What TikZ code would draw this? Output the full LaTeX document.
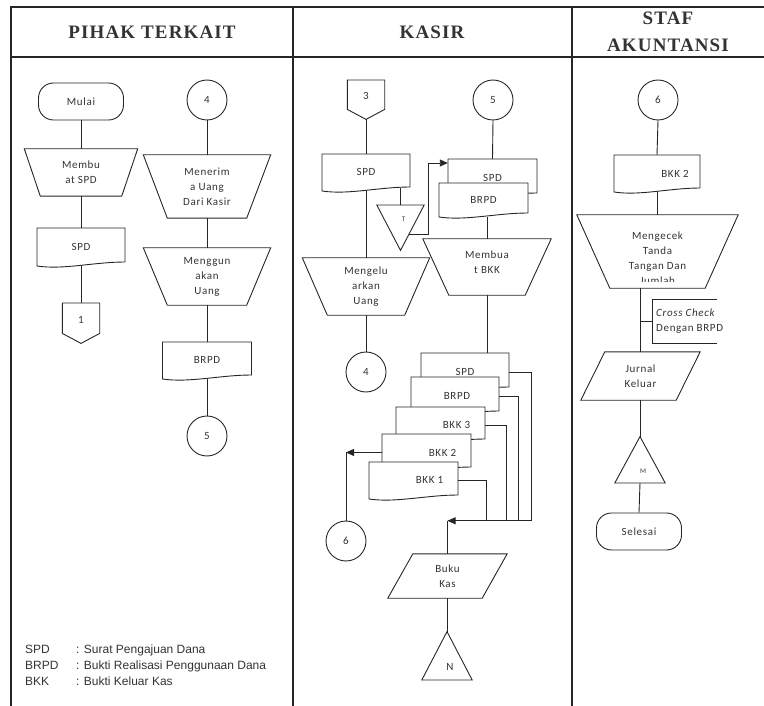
\documentclass[tikz,border=0pt]{standalone}
\usepackage{fontspec}
\usetikzlibrary{calc, arrows.meta}
\newfontfamily\isifont{Carlito}[LetterSpace=6]
\newfontfamily\judulfont{Liberation Serif}[LetterSpace=6]
\newfontfamily\ketfont{Liberation Sans}
\newcommand\isi{\isifont\fontsize{11}{15}\selectfont}
\newcommand\kecil{\isifont\fontsize{7}{8}\selectfont}
\newcommand\ket{\ketfont\fontsize{12}{16}\selectfont}

\tikzset{
  garis/.style={line width=0.9pt, draw=black!85},
  bingkai/.style={line width=1.4pt, draw=black!85},
  lbl/.style={font=\isi, text=black!80, align=center, inner sep=0pt},
  kotak/.style 2 args={lbl, minimum width=#1, minimum height=#2},
  bulat/.style={lbl, garis, circle, minimum size=40},
  terminal/.style={lbl, garis, rounded corners=15, minimum width=85, minimum height=37},
  panah/.style={-{Triangle[length=8pt,width=7pt]}},
  judul/.style={font=\judulfont\bfseries\fontsize{19}{27}\selectfont, text=black!80, align=center},
}

% dokumen: nama, x tengah, y atas, lebar, tinggi, teks, geser teks
\newcommand\dok[7]{%
  \draw[garis,fill=white] ({#2-#4/2},#3) -- ({#2+#4/2},#3) -- ({#2+#4/2},{#3+#5})
    .. controls +({-0.35*#4},0) and +({0.3*#4},4) .. ({#2-#4/2},{#3+#5+4}) -- cycle;
  \node[kotak={#4}{#5+3.5}, anchor=north, label={[lbl,xshift=#7pt]center:#6}] (#1) at (#2,#3) {};}
\newcommand\manop[2]{\draw[garis] (#1.north west) -- (#1.north east) -- ([xshift=-#2pt]#1.south east) -- ([xshift=#2pt]#1.south west) -- cycle;}
\newcommand\jajar[2]{\draw[garis] ([xshift=#2pt]#1.north west) -- (#1.north east) -- ([xshift=-#2pt]#1.south east) -- (#1.south west) -- cycle;}
\newcommand\offpage[1]{\draw[garis] (#1.north west) -- (#1.north east) -- ([yshift=10pt]#1.south east) -- (#1.south) -- ([yshift=10pt]#1.south west) -- cycle;}
\newcommand\segitigaturun[1]{\draw[garis] (#1.north west) -- (#1.north east) -- (#1.south) -- cycle;}
\newcommand\segitiganaik[1]{\draw[garis] (#1.south west) -- (#1.south east) -- (#1.north) -- cycle;}

\begin{document}
\begin{tikzpicture}[x=1pt, y=-1pt]
    \useasboundingbox (0,0) rectangle (764,706);
    % bingkai dan judul kolom
    \draw[bingkai] (11,706) -- (11,7) -- (764,7);
    \draw[bingkai] (11,57) -- (764,57);
    \draw[bingkai] (293,7) -- (293,706);
    \draw[bingkai] (572,7) -- (572,706);
    \node[judul] (jPihak) at (152,32) {PIHAK TERKAIT};
    \node[judul] (jKasir) at (432,32) {KASIR};
    \node[judul] (jStaf) at (668,32) {STAF\\AKUNTANSI};

    % pihak terkait
    \node[terminal] (mulai) at (81,101.5) {Mulai};
    \node[kotak={113}{47}] (buatSPD) at (81,172.5) {Membu\\at SPD};
    \manop{buatSPD}{16}
    \dok{spdA}{81}{228}{88}{34}{SPD}{0}
    \node[kotak={37}{40}, anchor=north, label={[lbl,yshift=3pt]center:1}] (off1) at (81,303) {};
    \offpage{off1}
    \draw[garis] (mulai.south) -- (buatSPD.north);
    \draw[garis] (buatSPD.south) -- (spdA.north);
    \draw[garis] (spdA.south) -- (off1.north);

    \node[bulat] (c4a) at (207,100) {4};
    \node[kotak={127}{63}] (terima) at (207,186.5) {Menerim\\a Uang\\Dari Kasir};
    \manop{terima}{24}
    \node[kotak={127}{57}] (guna) at (207,276.5) {Menggun\\akan\\Uang};
    \manop{guna}{24}
    \dok{brpdA}{207}{342}{89}{33}{BRPD}{0}
    \node[bulat] (c5a) at (207,436) {5};
    \draw[garis] (c4a.south) -- (terima.north);
    \draw[garis] (terima.south) -- (guna.north);
    \draw[garis] (guna.south) -- (brpdA.north);
    \draw[garis] (brpdA.south) -- (c5a.north);

    \node[lbl, font=\ket, anchor=west, align=left] (ket) at (25,665)
        {\makebox[51pt][l]{SPD}: Surat Pengajuan Dana\\
         \makebox[51pt][l]{BRPD}: Bukti Realisasi Penggunaan Dana\\
         \makebox[51pt][l]{BKK}: Bukti Keluar Kas};

    % kasir
    \node[kotak={37}{39}, anchor=north, label={[lbl,yshift=4pt]center:3}] (off3) at (366,80) {};
    \offpage{off3}
    \dok{spdK}{366}{154}{88}{33}{SPD}{0}
    \node[kotak={127}{57}] (keluar) at (366,286.5) {Mengelu\\arkan\\Uang};
    \manop{keluar}{25}
    \node[bulat] (c4b) at (366,372) {4};
    \node[kotak={47}{45}, anchor=north, label={[lbl,font=\kecil,xshift=3pt,yshift=8pt]center:T}] (arsipT) at (400.5,205) {};
    \segitigaturun{arsipT}
    \draw[garis] (off3.south) -- (spdK.north);
    \draw[garis] (spdK.south) -- (keluar.north);
    \draw[garis] (keluar.south) -- (c4b.north);
    \draw[garis] (arsipT.north) -- ($(arsipT.north |- spdK.south)+(0,-3)$);

    \node[bulat] (c5b) at (493,100) {5};
    \dok{spdB}{492.5}{159}{89}{34}{SPD}{0}
    \dok{brpdB}{483.5}{183}{89}{30}{BRPD}{0}
    \node[kotak={128}{56}, label={[lbl,yshift=5pt]center:Membua\\t BKK}] (buatBKK) at (487,267) {};
    \manop{buatBKK}{26}
    \draw[garis,panah] ($(arsipT.north east)!0.64!(arsipT.south)$) -- ++(19,0) |- ([yshift=-4pt]spdB.north west);
    \draw[garis] (c5b.south) -- (spdB.north);
    \draw[garis] (brpdB.south -| buatBKK.north) -- (buatBKK.north);

    \dok{spdC}{465}{353}{88}{34}{SPD}{0}
    \dok{brpdC}{455}{377}{88}{34}{BRPD}{2}
    \dok{bkk3}{440.5}{407}{89}{32}{BKK 3}{16}
    \dok{bkk2}{426.5}{434}{89}{33}{BKK 2}{16}
    \dok{bkk1}{413.5}{462}{89}{33}{BKK 1}{16}
    \draw[garis] (buatBKK.south) -- (buatBKK.south |- spdC.north);

    \node[bulat] (c6b) at (346,541) {6};
    \node[kotak={119}{44}] (bukuKas) at (447.5,576) {Buku\\Kas};
    \jajar{bukuKas}{25}
    \node[kotak={50}{48}, anchor=south, label={[lbl,xshift=3pt,yshift=-11pt]center:N}] (trN) at (447,680) {};
    \segitiganaik{trN}
    \coordinate (gabung) at ($(bukuKas.north)+(0,-33)$);
    \draw[garis,panah] (spdC.east) -- ++(22,0) |- (gabung);
    \draw[garis] (brpdC.east) -- ++(19,0) |- (gabung);
    \draw[garis] (bkk3.east) -- ++(21,0) |- (gabung);
    \draw[garis] (bkk1.east) -- ++(28,0) |- (gabung);
    \draw[garis] (gabung) -- (bukuKas.north);
    \draw[garis,panah] (bkk2.west) -- (bkk2.west -| c6b.north);
    \draw[garis] (bkk2.west -| c6b.north) -- (c6b.north);
    \draw[garis] (bukuKas.south -| trN.north) -- (trN.north);

    % staf akuntansi
    \node[bulat] (c6c) at (658,100) {6};
    \dok{bkk2C}{657}{155}{86}{33}{BKK 2}{18}
    \node[kotak={161}{73}] (cek) at (657.5,251.5) {};
    \manop{cek}{33}
    \begin{scope}
        \clip (577,215) rectangle (738,281);
        \node[lbl] (cekTeks) at (657.5,258.5) {Mengecek\\Tanda\\Tangan Dan\\Jumlah};
    \end{scope}
    \node[kotak={65}{43}, anchor=west, align=left, inner xsep=4] (crossCek) at (652,321.5) {\textit{Cross Check}\\Dengan BRPD};
    \draw[garis] ([xshift=65pt]crossCek.north west) -- (crossCek.north west) -- (crossCek.south west) -- ([xshift=65pt]crossCek.south west);
    \node[kotak={119}{48}] (jurnal) at (640.5,376) {Jurnal\\Keluar};
    \jajar{jurnal}{24}
    \node[kotak={50}{46}, anchor=south, label={[lbl,font=\kecil,xshift=3pt,yshift=-11pt]center:M}] (trM) at (640,483) {};
    \segitiganaik{trM}
    \node[terminal] (selesai) at (639,531.5) {Selesai};
    \draw[garis] (c6c.south) -- (bkk2C.north);
    \draw[garis] (bkk2C.south) -- (bkk2C.south |- cek.north);
    \draw[garis] (cek.south -| jurnal.north) -- (jurnal.north);
    \draw[garis] (crossCek.west -| jurnal.north) -- (crossCek.west);
    \draw[garis] (jurnal.south -| trM.north) -- (trM.north);
    \draw[garis] (trM.south) -- (selesai.north);
\end{tikzpicture}
\end{document}
